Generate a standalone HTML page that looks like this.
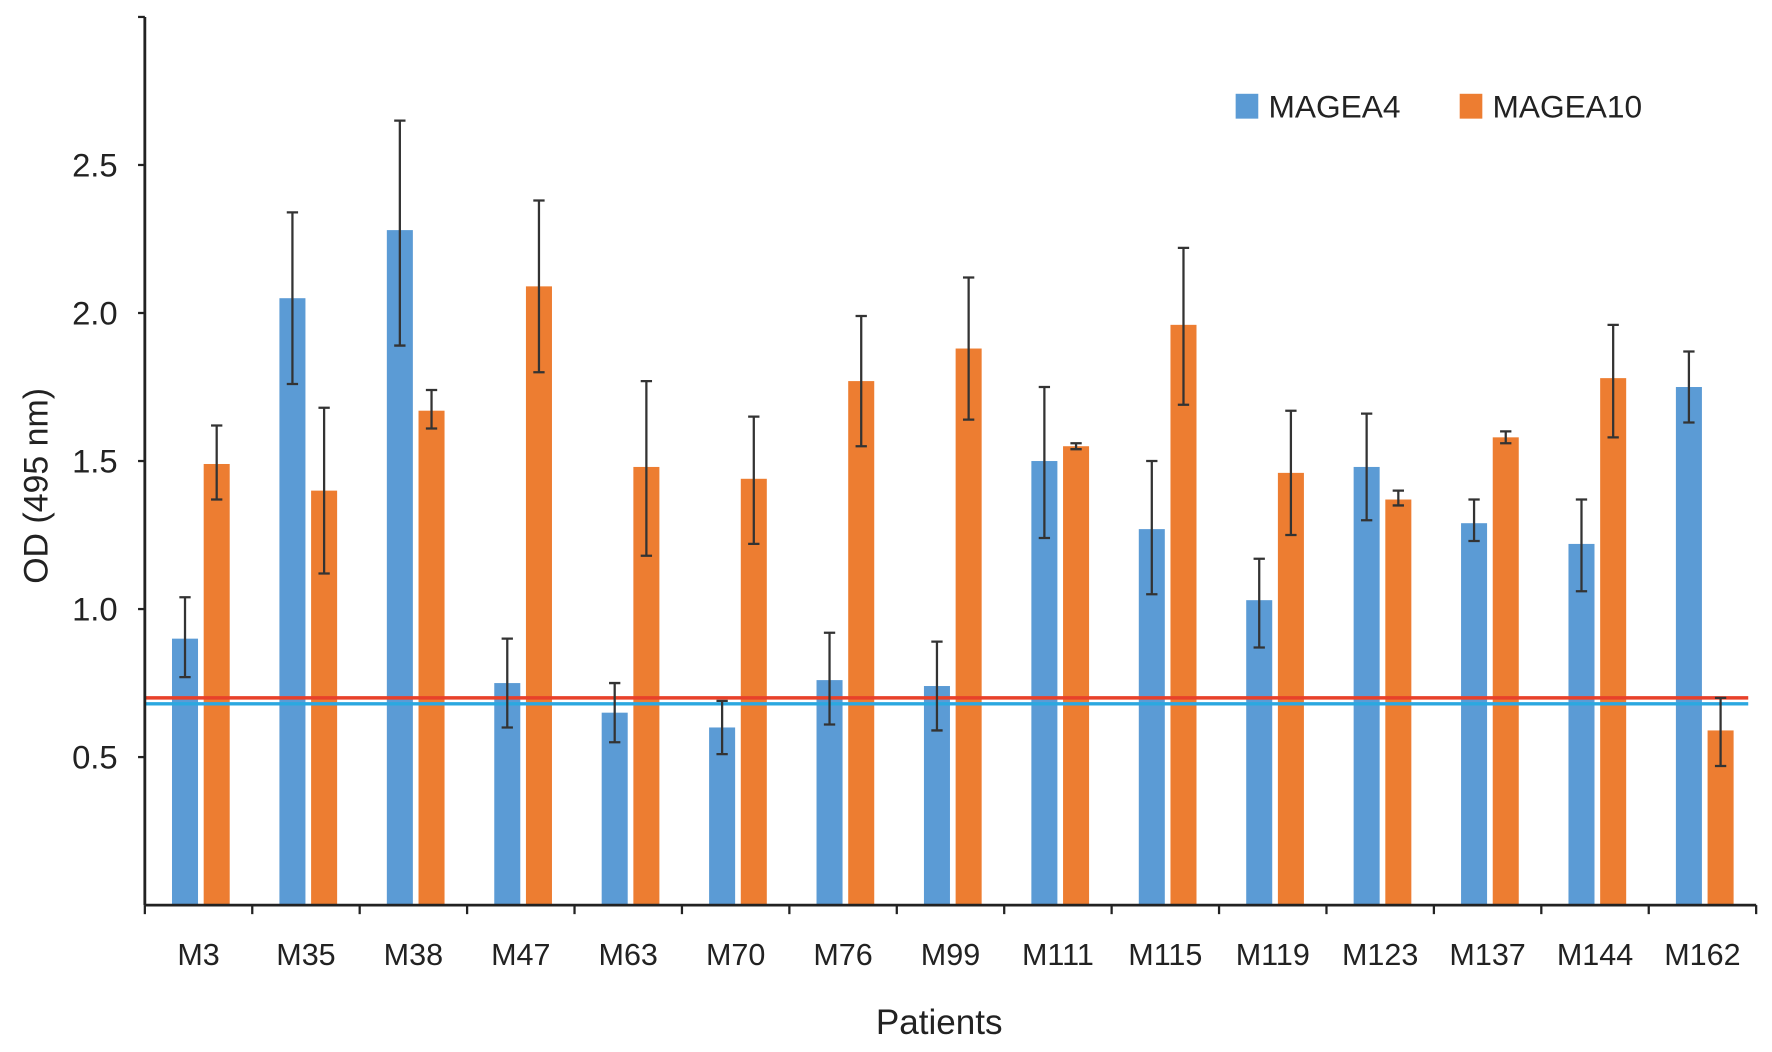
<!DOCTYPE html>
<html><head><meta charset="utf-8"><style>
html,body{margin:0;padding:0;background:#fff}
svg{display:block}
text{font-family:"Liberation Sans",sans-serif;fill:#222}
</style></head><body>
<svg id="chart" width="1772" height="1052" viewBox="0 0 1566 931" preserveAspectRatio="none" xmlns="http://www.w3.org/2000/svg">
<g id="g"></g>
</svg>
<script>
const categories=["M3","M35","M38","M47","M63","M70","M76","M99","M111","M115","M119","M123","M137","M144","M162"];
const mageA4=[0.90,2.05,2.28,0.75,0.65,0.60,0.76,0.74,1.50,1.27,1.03,1.48,1.29,1.22,1.75];
const mageA4Low=[0.77,1.76,1.89,0.60,0.55,0.51,0.61,0.59,1.24,1.05,0.87,1.30,1.23,1.06,1.63];
const mageA4High=[1.04,2.34,2.65,0.90,0.75,0.69,0.92,0.89,1.75,1.50,1.17,1.66,1.37,1.37,1.87];
const mageA10=[1.49,1.40,1.67,2.09,1.48,1.44,1.77,1.88,1.55,1.96,1.46,1.37,1.58,1.78,0.59];
const mageA10Low=[1.37,1.12,1.61,1.80,1.18,1.22,1.55,1.64,1.54,1.69,1.25,1.35,1.56,1.58,0.47];
const mageA10High=[1.62,1.68,1.74,2.38,1.77,1.65,1.99,2.12,1.56,2.22,1.67,1.40,1.60,1.96,0.70];
const yTicks=[0.5,1.0,1.5,2.0,2.5];
const cutoffA10=0.70, cutoffA4=0.68;

const NS="http://www.w3.org/2000/svg";
const g=document.getElementById('g');
const X0=128,X1=1552,Y0=801,PER=262;
const band=(X1-X0)/categories.length;
const y=v=>Y0-PER*v;
const xg=i=>X0+band*i;
function el(t,a,txt){const e=document.createElementNS(NS,t);for(const k in a)e.setAttribute(k,a[k]);if(txt!=null)e.textContent=txt;g.appendChild(e);return e;}

categories.forEach((c,i)=>{
  const b=el('rect',{x:xg(i)+24,y:y(mageA4[i]),width:23,height:Y0-y(mageA4[i]),fill:'#5b9bd5'});
  
  
  const o=el('rect',{x:xg(i)+52,y:y(mageA10[i]),width:23,height:Y0-y(mageA10[i]),fill:'#ed7d31'});
  
  
});
const l1=el('line',{x1:X0,x2:1545,y1:y(cutoffA10),y2:y(cutoffA10),stroke:'#e8412a','stroke-width':3});


const l2=el('line',{x1:X0,x2:1545,y1:y(cutoffA4),y2:y(cutoffA4),stroke:'#2ba8e0','stroke-width':3});


function err(cx,lo,hi,name){
  const p=el('path',{d:`M${cx},${y(lo)}V${y(hi)}M${cx-5},${y(lo)}H${cx+5}M${cx-5},${y(hi)}H${cx+5}`,stroke:'#333','stroke-width':2,fill:'none'});
  
  
}
categories.forEach((c,i)=>{
  err(xg(i)+35.5,mageA4Low[i],mageA4High[i],'error-bar-magea4-'+c.toLowerCase());
  err(xg(i)+63.5,mageA10Low[i],mageA10High[i],'error-bar-magea10-'+c.toLowerCase());
});
const ya=el('path',{d:`M${X0},15V${Y0}`,stroke:'#222','stroke-width':2.5,fill:'none'});


const xa=el('path',{d:`M${X0},${Y0}H${X1}`,stroke:'#222','stroke-width':2.5,fill:'none'});


el('path',{d:`M${X0-6},15H${X0}`,stroke:'#222','stroke-width':2});
yTicks.forEach(v=>{
  el('path',{d:`M${X0-6},${y(v)}H${X0}`,stroke:'#222','stroke-width':2});
  const t=el('text',{x:104,y:y(v)+10,'text-anchor':'end','font-size':29},v.toFixed(1));
  
  
});
for(let i=0;i<=categories.length;i++){
  el('path',{d:`M${xg(i)},${Y0}V${Y0+8}`,stroke:'#222','stroke-width':2});
}
categories.forEach((c,i)=>{
  const t=el('text',{x:xg(i)+band/2,y:854,'text-anchor':'middle','font-size':27},c);
  
  
});
const xt=el('text',{x:830,y:915,'text-anchor':'middle','font-size':31},'Patients');


const yt=el('text',{x:0,y:0,'text-anchor':'middle','font-size':30,transform:'translate(42,430) rotate(-90)'},'OD (495 nm)');


const s1=el('rect',{x:1092,y:83,width:20,height:22,fill:'#5b9bd5'});


const t1=el('text',{x:1121,y:104,'font-size':28},'MAGEA4');


const s2=el('rect',{x:1290,y:83,width:20,height:22,fill:'#ed7d31'});


const t2=el('text',{x:1319,y:104,'font-size':28},'MAGEA10');


</script>
</body></html>
